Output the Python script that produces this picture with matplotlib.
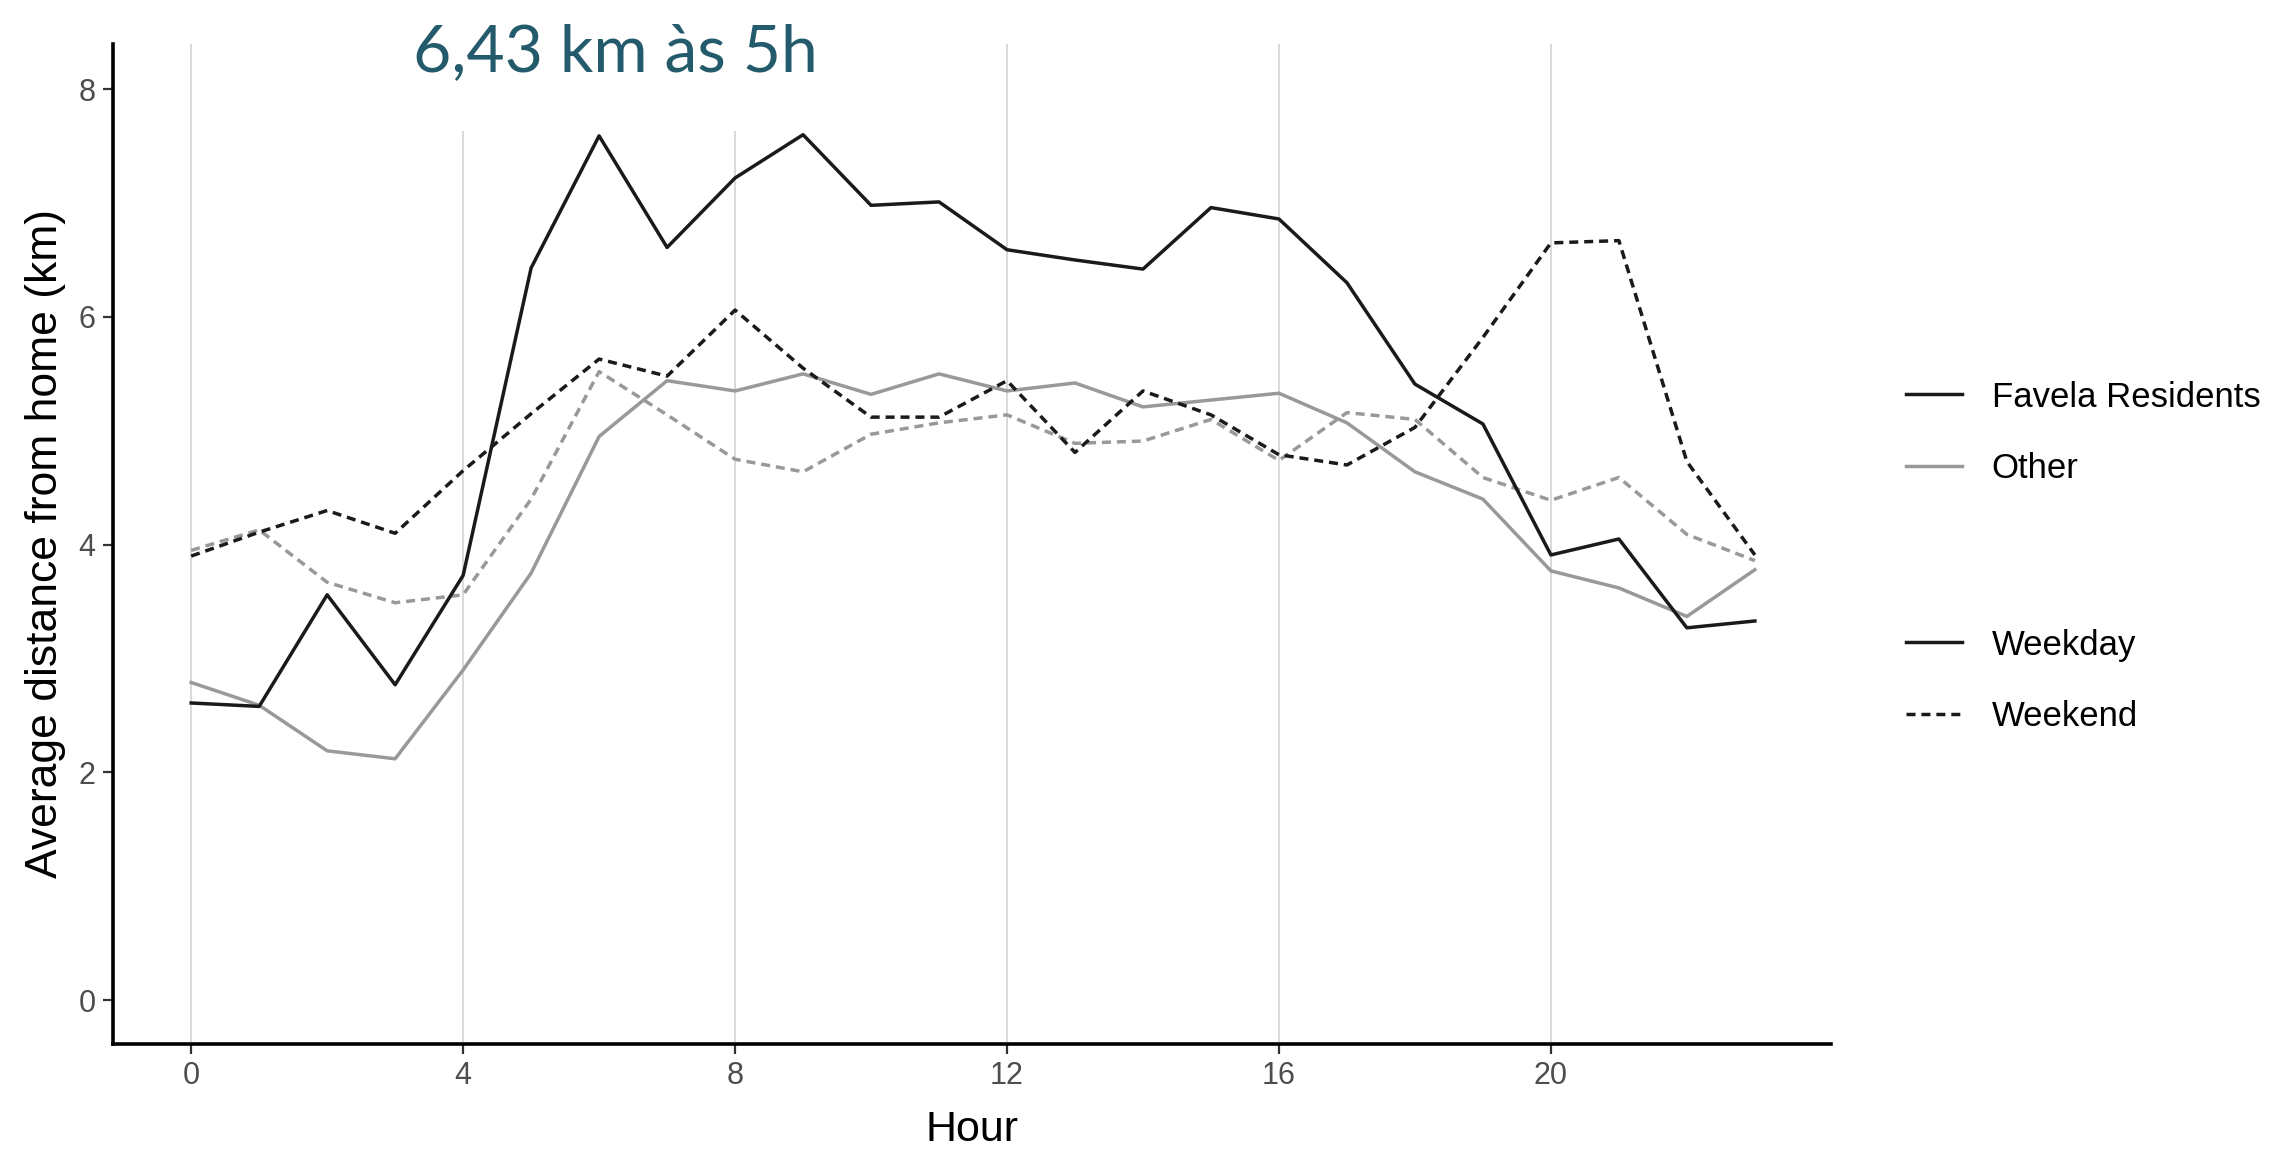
import matplotlib
matplotlib.use("Agg")
import matplotlib.pyplot as plt
from matplotlib.lines import Line2D
from matplotlib.patches import Rectangle

plt.rcParams['font.family'] = ['Liberation Sans', 'DejaVu Sans']

hours = list(range(24))
favela_weekday = [2.61, 2.58, 3.56, 2.77, 3.73, 6.43, 7.59, 6.61, 7.22, 7.60, 6.98, 7.01,
                  6.59, 6.50, 6.42, 6.96, 6.86, 6.30, 5.41, 5.06, 3.91, 4.05, 3.27, 3.33]
other_weekday = [2.79, 2.59, 2.19, 2.12, 2.90, 3.75, 4.95, 5.44, 5.35, 5.50, 5.32, 5.50,
                 5.35, 5.42, 5.21, 5.27, 5.33, 5.07, 4.64, 4.40, 3.77, 3.62, 3.37, 3.78]
favela_weekend = [3.90, 4.11, 4.30, 4.10, 4.65, 5.15, 5.63, 5.48, 6.06, 5.55, 5.12, 5.12,
                  5.44, 4.81, 5.35, 5.14, 4.79, 4.70, 5.03, 5.82, 6.65, 6.67, 4.73, 3.91]
other_weekend = [3.95, 4.13, 3.67, 3.49, 3.56, 4.40, 5.52, 5.14, 4.75, 4.64, 4.97, 5.07,
                 5.14, 4.89, 4.91, 5.10, 4.74, 5.16, 5.10, 4.59, 4.39, 4.59, 4.09, 3.86]

x_ticks = [0, 4, 8, 12, 16, 20]
y_ticks = [0, 2, 4, 6, 8]
title_text = "6,43 km às 5h"
group_labels = ["Favela Residents", "Other"]
day_labels = ["Weekday", "Weekend"]

BLACK = "#1a1a1a"
GREY = "#999999"
LW = 2.5
DASH = (2.6, 1.7)

W, H = 2279, 1153
fig = plt.figure(figsize=(W / 100, H / 100), dpi=100)
ax = fig.add_axes([113 / W, 1 - 1043.5 / H, (1831 - 113) / W, (1043.5 - 43.6) / H])

ax.plot(hours, other_weekend, color=GREY, lw=LW, linestyle=(0, DASH), zorder=2)
ax.plot(hours, other_weekday, color=GREY, lw=LW, zorder=2.1)
ax.plot(hours, favela_weekend, color=BLACK, lw=LW, linestyle=(0, DASH), zorder=2.2)
ax.plot(hours, favela_weekday, color=BLACK, lw=LW, zorder=2.3)

ax.set_xlim(-1.15, 24.12)
ax.set_ylim(-0.38, 8.40)
ax.set_xticks(x_ticks)
ax.set_yticks(y_ticks)
ax.set_xticklabels([str(v) for v in x_ticks])
ax.set_yticklabels([str(v) for v in y_ticks])

ax.grid(axis='x', color='#cfcfcf', lw=1.1)
ax.set_axisbelow(True)
for s in ['top', 'right']:
    ax.spines[s].set_visible(False)
for s in ['left', 'bottom']:
    ax.spines[s].set_linewidth(2.6)
    ax.spines[s].set_color('black')
ax.tick_params(axis='both', length=7.5, width=1.6, color='#333333',
               labelsize=22, labelcolor='#4d4d4d', pad=5)

ax.set_xlabel("Hour", fontsize=31, color='black', labelpad=14)
ax.set_ylabel("Average distance from home (km)", fontsize=32, color='black', labelpad=9)

# white mask behind the title (covers gridlines as in reference)
mask = Rectangle((400 / W, 1 - 131 / H), (830 - 400) / W, 131 / H,
                 transform=fig.transFigure, facecolor='white', edgecolor='none',
                 zorder=1.5, clip_on=False)
ax.add_artist(mask)
fig.text(413 / W, 1 - 71 / H, title_text, fontsize=47.5, color='#245B6C',
         family=['Lato', 'DejaVu Sans'], ha='left', va='baseline')

h1 = [Line2D([], [], color=BLACK, lw=LW), Line2D([], [], color=GREY, lw=LW)]
h2 = [Line2D([], [], color=BLACK, lw=LW), Line2D([], [], color=BLACK, lw=LW, linestyle=(0, DASH))]
common = dict(frameon=False, fontsize=25, handlelength=1.62, handletextpad=0.85,
              labelspacing=1.12, borderpad=0, borderaxespad=0, loc='center left')
leg1 = fig.legend(h1, group_labels, bbox_to_anchor=(1906 / W, 1 - 433 / H), **common)
leg2 = fig.legend(h2, day_labels, bbox_to_anchor=(1906 / W, 1 - 681 / H), **common)

fig.savefig("out.png", dpi=100, facecolor='white')
